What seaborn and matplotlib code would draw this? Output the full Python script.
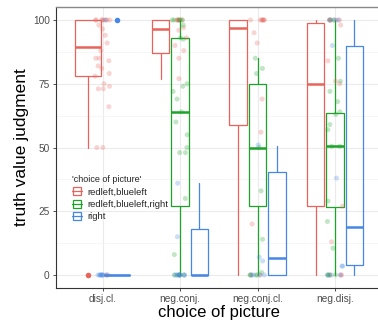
import numpy as np
import pandas as pd
import matplotlib
matplotlib.use("Agg")
import matplotlib.pyplot as plt
import seaborn as sns
from matplotlib.lines import Line2D

# --- data ---
categories = ['disj.cl.', 'neg.conj.', 'neg.conj.cl.', 'neg.disj.']
groups = ['redleft,blueleft', 'redleft,blueleft,right', 'right']
colors = ['#E8645B', '#1DA32A', '#4686E6']

# box stats per category (nan = group missing)
red_lo = [50, 77, 0, 0]
red_q1 = [78, 87, 59, 27]
red_med = [89.5, 96.5, 97, 75]
red_q3 = [100, 100, 100, 99]
red_hi = [100, 100, 100, 100]
red_fliers = [[0], [], [], []]

green_lo = [np.nan, 0, 0, 0]
green_q1 = [np.nan, 27, 27, 26.5]
green_med = [np.nan, 64, 50, 50.5]
green_q3 = [np.nan, 93, 75, 63.5]
green_hi = [np.nan, 100, 85, 100]
green_fliers = [[], [], [], []]

blue_lo = [0, 0, 0, 0]
blue_q1 = [0, 0, 0, 4]
blue_med = [0, 0, 6.5, 19]
blue_q3 = [0, 18, 40.5, 90]
blue_hi = [0, 36, 50.5, 100]
blue_fliers = [[100], [], [], []]

# jittered answers
red_points = {
    'disj.cl.': [100, 100, 100, 100, 100, 100, 100, 100, 98, 96.5, 94, 91, 88, 85, 85, 84,
                 82, 81, 79, 78, 75, 74, 73, 73, 66, 50, 50, 0],
    'neg.conj.': [100, 100, 100, 100, 100, 100, 97, 96, 93, 90, 88, 85, 77],
    'neg.conj.cl.': [100, 100, 100, 100, 100, 100, 100, 95, 91, 69, 56, 20, 0, 0],
    'neg.disj.': [100, 100, 100, 100, 100, 98, 84, 76, 75, 27, 13, 0, 0, 0],
}
green_points = {
    'disj.cl.': [],
    'neg.conj.': [100, 100, 100, 100, 100, 98, 93, 92.5, 75, 74, 72, 69, 64, 60, 55, 50,
                  48, 48, 30, 8, 0, 0, 0, 0, 0],
    'neg.conj.cl.': [85, 81, 79, 50, 33, 14, 1, 0, 0, 0, 0],
    'neg.disj.': [100, 100, 85, 76, 72, 68, 64, 63, 59, 57, 50.5, 50.5, 29, 21, 10.5,
                  0, 0, 0, 0],
}
blue_points = {
    'disj.cl.': [100, 0, 0, 0, 0, 0, 0, 0, 0, 0, 0],
    'neg.conj.': [36, 15, 0, 0, 0, 0, 0, 0, 0, 0],
    'neg.conj.cl.': [51, 7, 5.5, 0, 0, 0, 0],
    'neg.disj.': [100, 100, 100, 90, 38, 3.5, 3.5, 0, 0, 0],
}

box_stats = {
    groups[0]: (red_lo, red_q1, red_med, red_q3, red_hi, red_fliers),
    groups[1]: (green_lo, green_q1, green_med, green_q3, green_hi, green_fliers),
    groups[2]: (blue_lo, blue_q1, blue_med, blue_q3, blue_hi, blue_fliers),
}
point_sets = {groups[0]: red_points, groups[1]: green_points, groups[2]: blue_points}

rows = []
for g in groups:
    for cat in categories:
        for v in point_sets[g][cat]:
            rows.append({'choice of picture': cat, 'group': g, 'truth value judgment': v})
df = pd.DataFrame(rows)

# --- plot ---
sns.set_theme(style='white')
plt.rcParams['font.family'] = ['Liberation Sans', 'DejaVu Sans']

fig = plt.figure(figsize=(3.78, 3.24), dpi=100)
ax = fig.add_axes([56 / 378, 1 - 287.75 / 324, 325.6 / 378, 280.5 / 324])

np.random.seed(7)
sns.stripplot(data=df, x='choice of picture', y='truth value judgment', hue='group',
              order=categories, hue_order=groups, palette=colors, jitter=0.1,
              alpha=0.27, size=3.6, linewidth=0, dodge=False, legend=False,
              ax=ax, zorder=3)

dodge = 0.75
for i, cat in enumerate(categories):
    present = [g for g in groups if not np.isnan(box_stats[g][2][i])]
    w = dodge / len(present)
    for k, g in enumerate(present):
        col = colors[groups.index(g)]
        lo, q1, med, q3, hi, fl = box_stats[g]
        pos = i - dodge / 2 + w * (k + 0.5)
        st = dict(whislo=lo[i], q1=q1[i], med=med[i], q3=q3[i], whishi=hi[i], fliers=fl[i])
        ax.bxp([st], positions=[pos], widths=w * 0.9, showcaps=False,
               boxprops=dict(color=col, linewidth=0.9),
               whiskerprops=dict(color=col, linewidth=0.9),
               medianprops=dict(color=col, linewidth=1.8, solid_capstyle='butt'),
               flierprops=dict(marker='o', markerfacecolor=col, markeredgecolor='none',
                               markersize=4),
               manage_ticks=False, zorder=2)

ax.set_xlim(-0.6, 3.6)
ax.set_ylim(-5, 105)
ax.set_xticks(range(len(categories)))
ax.set_xticklabels(categories)
ax.set_yticks([0, 25, 50, 75, 100])
ax.set_yticks([12.5, 37.5, 62.5, 87.5], minor=True)
ax.grid(True, which='major', color='#EBEBEB', linewidth=0.8, zorder=0)
ax.grid(True, which='minor', axis='y', color='#F3F3F3', linewidth=0.5, zorder=0)
ax.set_axisbelow(True)

ax.tick_params(axis='both', which='major', labelsize=7.3, labelcolor='#4D4D4D',
               color='#333333', length=2.5, width=0.6, left=True, bottom=True, pad=2)
ax.tick_params(axis='y', which='minor', left=False)
for side in ['left', 'bottom']:
    ax.spines[side].set_color('#333333')
    ax.spines[side].set_linewidth(0.8)
ax.spines['top'].set_color('#888888')
ax.spines['top'].set_linewidth(1.0)
ax.spines['right'].set_visible(False)

ax.set_xlabel('choice of picture', fontsize=12, color='black', labelpad=1)
ax.set_ylabel('truth value judgment', fontsize=12.5, color='black', labelpad=3)

handles = [Line2D([0], [0], color=c, linewidth=0.9, marker='s', markersize=6,
                  markerfacecolor='none', markeredgecolor=c, markeredgewidth=0.9)
           for c in colors]
leg = fig.legend(handles, groups, title="'choice of picture'", loc='upper left',
                 bbox_to_anchor=(0.18, 0.47), frameon=False, fontsize=6.8,
                 title_fontsize=6.5, handlelength=1.1, handletextpad=0.5,
                 labelspacing=0.35, alignment='left', borderaxespad=0)

fig.savefig('out.png', dpi=100)
